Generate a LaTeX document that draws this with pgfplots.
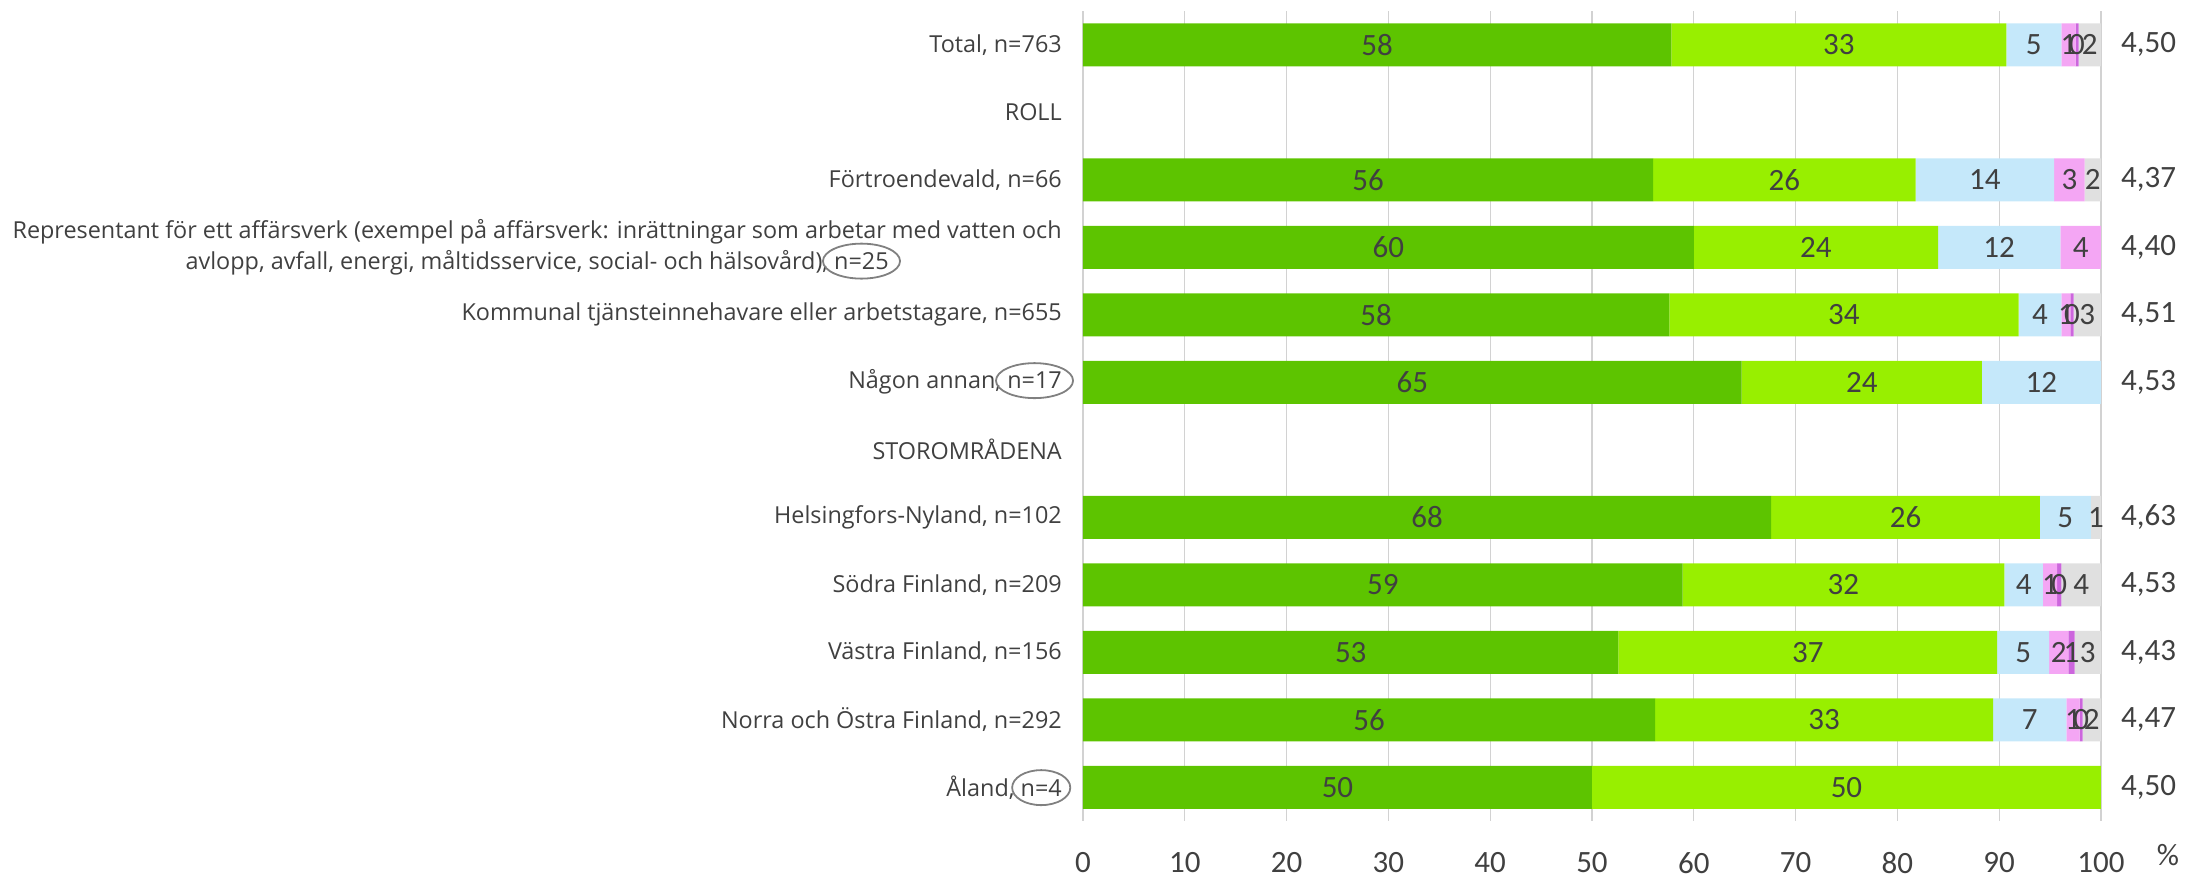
\documentclass[border=0pt]{standalone}
\usepackage{pgfplots}
\pgfplotsset{compat=1.18}
\usepackage{pgfplotstable}
\usepackage{fontspec}
\setmainfont{Carlito}
\newfontfamily\catfont{Open Sans}
\usetikzlibrary{shapes.geometric}
\definecolor{cA}{RGB}{93,196,0}
\definecolor{cB}{RGB}{152,239,0}
\definecolor{cC}{RGB}{197,232,250}
\definecolor{cD}{RGB}{244,166,244}
\definecolor{cE}{RGB}{204,102,221}
\definecolor{cF}{RGB}{224,224,224}
\definecolor{txt}{RGB}{64,64,64}
\definecolor{gridc}{RGB}{210,210,210}

\pgfplotstableread{
y a b c d e f la lb lc ld le lf
0 57.8 32.9 5.4 1.4 0.3 2.2 58 33 5 1 0 2
2 56.0 25.8 13.6 3.0 0 1.6 56 26 14 3 {} 2
3 60 24 12 4 0 0 60 24 12 4 {} {}
4 57.6 34.3 4.2 0.9 0.3 2.7 58 34 4 1 0 3
5 64.7 23.6 11.7 0 0 0 65 24 12 {} {} {}
7 67.6 26.4 5.0 0 0 1.0 68 26 5 {} {} 1
8 58.9 31.6 3.8 1.4 0.4 3.9 59 32 4 1 0 4
9 52.6 37.2 5.1 1.9 0.6 2.6 53 37 5 2 1 3
10 56.2 33.2 7.2 1.3 0.3 1.8 56 33 7 1 0 2
11 50 50 0 0 0 0 50 50 {} {} {} {}
}\data

\newcommand\circled[1]{\tikz[baseline=(c.base)]{\node[inner sep=0pt,anchor=center](c){#1};\node[overlay,anchor=center,draw=gray,line width=1.8pt,ellipse,inner xsep=0pt,inner ysep=0pt,minimum height=35pt] at (c.center){\phantom{#1}};}}

\pgfplotsset{seg/.style={fill=#1, draw=none, nodes near coords, point meta=explicit symbolic,
  every node near coord/.style={anchor=center, font=\fontsize{31}{37}\selectfont, text=txt}}}

\begin{document}
\begin{tikzpicture}
\begin{axis}[name=ax, at={(0,0)}, anchor=south west,
  xbar stacked, scale only axis, width=1018pt, height=810pt,
  xmin=0, xmax=100, ymin=-0.5, ymax=11.5, y dir=reverse,
  bar width=43pt,
  axis line style={draw=none}, major tick length=0pt,
  /pgf/number format/assume math mode=true,
  xtick={0,10,...,100}, xmajorgrids, grid style={gridc, line width=1.3pt},
  xticklabel style={anchor=center, font=\fontsize{31}{37}\selectfont, text=txt},
  xticklabel shift=42pt,
  ytick={0,...,11},
  yticklabels={{Total, n=763},{ROLL},{Förtroendevald, n=66},
    {Representant för ett affärsverk (exempel på affärsverk: inrättningar som arbetar med vatten och\\avlopp, avfall, energi, måltidsservice, social- och hälsovård), \circled{n=25}},
    {Kommunal tjänsteinnehavare eller arbetstagare, n=655},{Någon annan, \circled{n=17}},{STOROMRÅDENA},
    {Helsingfors-Nyland, n=102},{Södra Finland, n=209},{Västra Finland, n=156},{Norra och Östra Finland, n=292},{Åland, \circled{n=4}}},
  yticklabel style={align=center, inner sep=0pt, font=\catfont\fontsize{23.4}{31}\selectfont, text=txt},
  yticklabel shift=21pt,
]
\addplot[seg=cA] table[x=a, y=y, meta=la]{\data};
\addplot[seg=cB] table[x=b, y=y, meta=lb]{\data};
\addplot[seg=cC] table[x=c, y=y, meta=lc]{\data};
\addplot[seg=cD] table[x=d, y=y, meta=ld]{\data};
\addplot[seg=cE] table[x=e, y=y, meta=le]{\data};
\addplot[seg=cF] table[x=f, y=y, meta=lf]{\data};
\end{axis}
\begin{axis}[at={(0,0)}, anchor=south west, scale only axis, width=1018pt, height=810pt,
  xmin=0, xmax=100, ymin=-0.5, ymax=11.5, y dir=reverse,
  axis line style={draw=none}, major tick length=0pt, xtick=\empty,
  ytick={0,2,3,4,5,7,8,9,10,11},
  yticklabels={{4,50},{4,37},{4,40},{4,51},{4,53},{4,63},{4,53},{4,43},{4,47},{4,50}},
  yticklabel pos=right,
  yticklabel style={anchor=west, inner sep=0pt, font=\fontsize{31}{37}\selectfont, text=txt},
  yticklabel shift=20pt,
]
\addplot[draw=none] coordinates {(0,0)};
\end{axis}
\node[font=\fontsize{31}{37}\selectfont, text=txt] at ([xshift=67pt, yshift=-34pt]ax.south east) {\%};
\pgfresetboundingbox
\path[use as bounding box] (ax.south west) ++(-1083pt,-58pt) rectangle ++(2185pt,879pt);
\end{tikzpicture}
\end{document}
